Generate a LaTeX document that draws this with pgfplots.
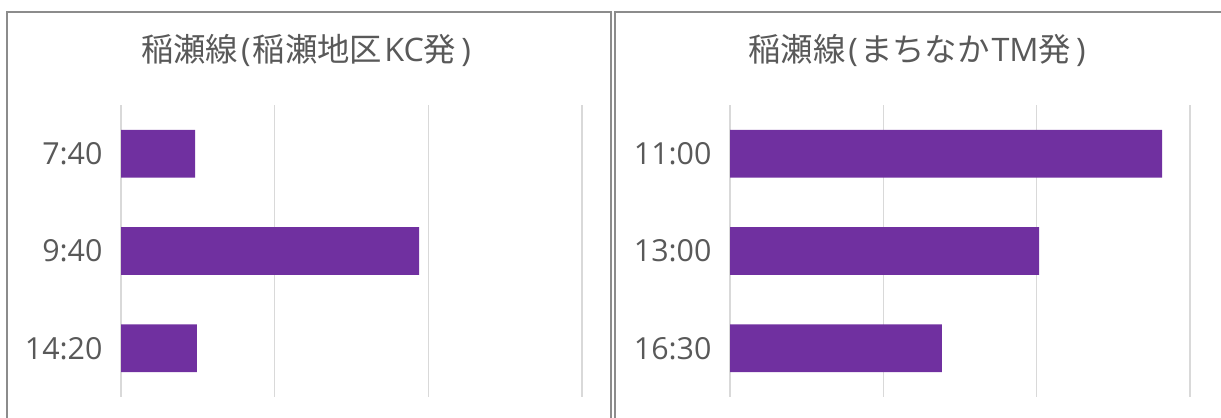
\documentclass[border=0pt]{standalone}
\usepackage{fontspec}
\setmainfont{Open Sans}
\newfontfamily\cjk{Noto Sans CJK JP}
\usepackage{pgfplots}
\pgfplotsset{compat=1.18}

\definecolor{barpurple}{HTML}{7030A0}
\definecolor{txtgray}{HTML}{595959}
\definecolor{gridgray}{HTML}{D9D9D9}
\definecolor{framegray}{HTML}{8C8C8C}

\pgfplotsset{
  panel/.style={
    scale only axis,
    width=461bp, height=292bp,
    anchor=south west,
    xbar, bar width=0.49,
    xmin=0, xmax=15,
    ymin=-0.5, ymax=2.5,
    y dir=reverse,
    axis line style={draw=none},
    xtick={0,5,10,15},
    xticklabels={},
    xmajorgrids,
    major grid style={gridgray, line width=1.5bp},
    ytick={0,1,2},
    yticklabel style={font=\fontsize{30.5}{33}\selectfont, text=txtgray, xshift=-15bp},
    /pgf/number format/assume math mode=true,
    major tick length=0pt,
    tick style={draw=none},
    clip=false,
  },
}

\newcommand\ttl[1]{{\fontsize{32.5}{36}\selectfont #1}}

\begin{document}
\begin{tikzpicture}
  % panel frames
  \draw[framegray, line width=2.5bp] (7bp,-20bp) -- (7bp,406bp) -- (611bp,406bp) -- (611bp,-20bp);
  \draw[framegray, line width=2.5bp] (615bp,-20bp) -- (615bp,406bp) -- (1240bp,406bp) -- (1240bp,-20bp);

  \node[text=txtgray, inner sep=0pt] at (306bp,368bp)
    {\ttl{{\cjk 稲瀬線}\hspace{3bp}(\hspace{2bp}{\cjk 稲瀬地区}\hspace{2bp}KC{\cjk 発}\hspace{5bp})}};
  \node[text=txtgray, inner sep=0pt] at (917bp,368bp)
    {\ttl{{\cjk 稲瀬線}\hspace{3bp}(\hspace{2bp}{\cjk まちなか}\hspace{2bp}TM{\cjk 発}\hspace{5bp})}};

  \begin{axis}[panel, at={(121bp,21bp)},
      yticklabels={7:40,9:40,14:20}]
    \addplot[fill=barpurple, draw=none] coordinates {(2.41,0) (9.70,1) (2.47,2)};
  \end{axis}

  \begin{axis}[panel, at={(730bp,21bp)}, width=460bp,
      yticklabels={11:00,13:00,16:30}]
    \addplot[fill=barpurple, draw=none] coordinates {(14.09,0) (10.08,1) (6.91,2)};
  \end{axis}

  \pgfresetboundingbox
  \useasboundingbox (0,0) rectangle (1221bp,418bp);
\end{tikzpicture}
\end{document}
